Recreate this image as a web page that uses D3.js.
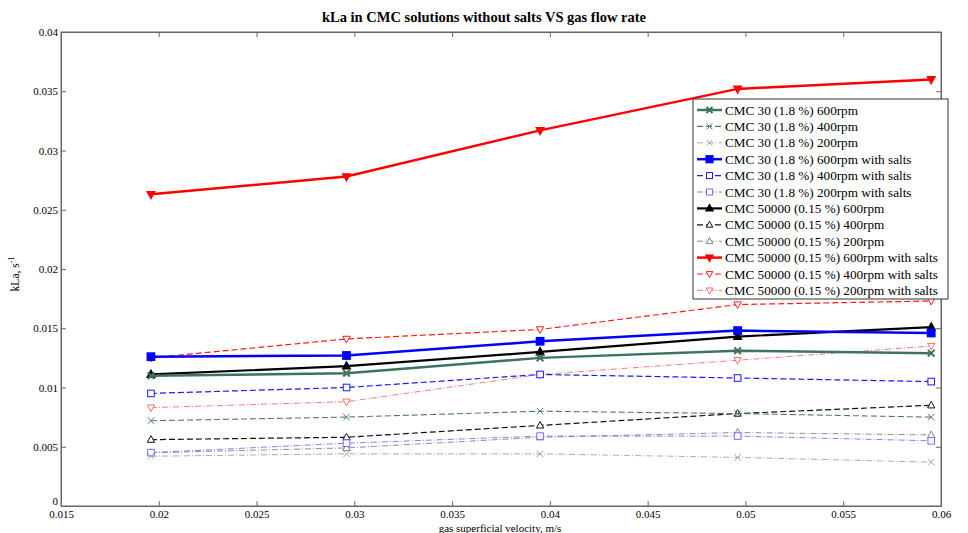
<!DOCTYPE html>
<html>
<head>
<meta charset="utf-8">
<script src="https://cdn.jsdelivr.net/npm/d3@7"></script>
<style>
  body { margin: 0; background: #fff; }
  text { font-family: "Liberation Serif", "DejaVu Serif", serif; }
</style>
</head>
<body>
<svg id="chart" width="968" height="533"></svg>
<script>
// gas superficial velocity, m/s
var velocity = [0.0196, 0.0296, 0.0395, 0.0496, 0.0595];

// kLa values, one array per series
var cmc30_600 = [0.0110, 0.0112, 0.0125, 0.0131, 0.0129];
var cmc30_400 = [0.0072, 0.0075, 0.0080, 0.0078, 0.0075];
var cmc30_200 = [0.0042, 0.0044, 0.0044, 0.0041, 0.0037];
var cmc30_600s = [0.0126, 0.0127, 0.0139, 0.0148, 0.0146];
var cmc30_400s = [0.0095, 0.0100, 0.0111, 0.0108, 0.0105];
var cmc30_200s = [0.0045, 0.0053, 0.0059, 0.0059, 0.0055];
var cmc50k_600 = [0.0111, 0.0118, 0.0130, 0.0143, 0.0151];
var cmc50k_400 = [0.0056, 0.0058, 0.0068, 0.0078, 0.0085];
var cmc50k_200 = [0.0045, 0.0049, 0.0058, 0.0062, 0.0060];
var cmc50k_600s = [0.0263, 0.0278, 0.0317, 0.0352, 0.0360];
var cmc50k_400s = [0.0125, 0.0141, 0.0149, 0.0170, 0.0173];
var cmc50k_200s = [0.0083, 0.0088, 0.0111, 0.0123, 0.0135];

var xTicks = [0.015, 0.02, 0.025, 0.03, 0.035, 0.04, 0.045, 0.05, 0.055, 0.06];
var yTicks = [0, 0.005, 0.01, 0.015, 0.02, 0.025, 0.03, 0.035, 0.04];

// series table: name, values, color, line style, marker
var series = [
  {name: "CMC 30 (1.8 %) 600rpm", v: cmc30_600, c: "#3d7558", w: 2.5, dash: null, m: "x", fill: true},
  {name: "CMC 30 (1.8 %) 400rpm", v: cmc30_400, c: "#4e7d64", w: 1.1, dash: "6,3", m: "x"},
  {name: "CMC 30 (1.8 %) 200rpm", v: cmc30_200, c: "#8fae9c", w: 0.9, dash: "6,2,1,2", m: "x"},
  {name: "CMC 30 (1.8 %) 600rpm with salts", v: cmc30_600s, c: "#0000ff", w: 2.5, dash: null, m: "square", fill: true},
  {name: "CMC 30 (1.8 %) 400rpm with salts", v: cmc30_400s, c: "#1a1aff", w: 1.2, dash: "6,3", m: "square"},
  {name: "CMC 30 (1.8 %) 200rpm with salts", v: cmc30_200s, c: "#7070ff", w: 0.9, dash: "6,2,1,2", m: "square"},
  {name: "CMC 50000 (0.15 %) 600rpm", v: cmc50k_600, c: "#000000", w: 2.2, dash: null, m: "up", fill: true},
  {name: "CMC 50000 (0.15 %) 400rpm", v: cmc50k_400, c: "#111111", w: 1.2, dash: "6,3", m: "up"},
  {name: "CMC 50000 (0.15 %) 200rpm", v: cmc50k_200, c: "#808080", w: 0.9, dash: "6,2,1,2", m: "up"},
  {name: "CMC 50000 (0.15 %) 600rpm with salts", v: cmc50k_600s, c: "#ff0000", w: 2.5, dash: null, m: "down", fill: true},
  {name: "CMC 50000 (0.15 %) 400rpm with salts", v: cmc50k_400s, c: "#ff1a1a", w: 1.2, dash: "6,3", m: "down"},
  {name: "CMC 50000 (0.15 %) 200rpm with salts", v: cmc50k_200s, c: "#ff6a6a", w: 0.9, dash: "6,2,1,2", m: "down"}
];

var svg = d3.select("#chart");
var plotL = 61, plotR = 941, plotT = 32, plotB = 506;

var x = d3.scaleLinear().domain([0.015, 0.06]).range([plotL, plotR]);
var y = d3.scaleLinear().domain([0, 0.04]).range([plotB, plotT]);

var fmt = function(d) { return d === 0 ? "0" : String(+d.toFixed(3)); };

// axes, matlab style: ticks inside on all four sides
svg.append("g").attr("transform", "translate(0," + plotB + ")")
  .call(d3.axisBottom(x).tickValues(xTicks).tickFormat(fmt).tickSizeInner(-5).tickSizeOuter(0).tickPadding(4));
svg.append("g").attr("transform", "translate(0," + plotT + ")")
  .call(d3.axisTop(x).tickValues(xTicks).tickFormat("").tickSizeInner(-5).tickSizeOuter(0));
var yAxisG = svg.append("g").attr("transform", "translate(" + plotL + ",0)")
  .call(d3.axisLeft(y).tickValues(yTicks).tickFormat(fmt).tickSizeInner(-5).tickSizeOuter(0).tickPadding(3));
svg.append("g").attr("transform", "translate(" + plotR + ",0)")
  .call(d3.axisRight(y).tickValues(yTicks).tickFormat("").tickSizeInner(-5).tickSizeOuter(0));

svg.selectAll(".domain").attr("stroke", "#666");
svg.selectAll(".tick line").attr("stroke", "#666");
svg.selectAll(".tick text").attr("fill", "#000").style("font-size", "11px")
  .style("font-family", "'Liberation Serif', serif");

// the "0" on the y axis sits a little above the corner, as in matlab
yAxisG.selectAll(".tick text").filter(function(d) { return d === 0; }).attr("dy", "-0.1em");

// frame
svg.append("rect").attr("x", plotL).attr("y", plotT)
  .attr("width", plotR - plotL).attr("height", plotB - plotT)
  .attr("fill", "none").attr("stroke", "#666").attr("stroke-width", 1);

// marker drawing
function marker(g, type, size, color, fill) {
  var s = size;
  if (type === "x") {
    g.append("path").attr("d", "M" + (-s) + "," + (-s) + "L" + s + "," + s + "M" + (-s) + "," + s + "L" + s + "," + (-s))
      .attr("stroke", color).attr("stroke-width", fill ? 2 : 1).attr("fill", "none");
  } else if (type === "square") {
    g.append("rect").attr("x", -s).attr("y", -s).attr("width", 2 * s).attr("height", 2 * s)
      .attr("stroke", color).attr("stroke-width", fill ? 2.2 : 1).attr("fill", fill ? color : "#fff");
  } else {
    var d = type === "up"
      ? "M0," + (-s * 1.2) + "L" + (s * 1.1) + "," + (s * 0.8) + "L" + (-s * 1.1) + "," + (s * 0.8) + "Z"
      : "M0," + (s * 1.2) + "L" + (s * 1.1) + "," + (-s * 0.8) + "L" + (-s * 1.1) + "," + (-s * 0.8) + "Z";
    g.append("path").attr("d", d).attr("stroke", color).attr("stroke-width", fill ? 1.6 : 1)
      .attr("fill", fill ? color : "#fff");
  }
}

var line = d3.line().x(function(d, i) { return x(velocity[i]); }).y(function(d) { return y(d); });

// draw from last to first so the first legend series end up on top
series.slice().reverse().forEach(function(s) {
  svg.append("path").datum(s.v)
    .attr("d", line)
    .attr("fill", "none")
    .attr("stroke", s.c)
    .attr("stroke-width", s.w)
    .attr("stroke-dasharray", s.dash);
  s.v.forEach(function(d, i) {
    var g = svg.append("g").attr("transform", "translate(" + x(velocity[i]) + "," + y(d) + ")");
    marker(g, s.m, 3.3, s.c, s.fill);
  });
});

// title and labels
svg.append("text").attr("x", 484).attr("y", 22)
  .attr("text-anchor", "middle").style("font-size", "14.5px").style("font-weight", "bold")
  .text("kLa in CMC solutions without salts VS gas flow rate");

svg.append("text").attr("x", 500).attr("y", 532)
  .attr("text-anchor", "middle").style("font-size", "11px")
  .text("gas superficial velocity, m/s");

var yl = svg.append("text").attr("transform", "translate(19,274) rotate(-90)")
  .attr("text-anchor", "middle").style("font-size", "11.5px");
yl.append("tspan").text("kLa, s");
yl.append("tspan").attr("dy", -5).style("font-size", "8px").text("-1");

// legend
var lg = svg.append("g").attr("transform", "translate(693,99)");
lg.append("rect").attr("width", 255).attr("height", 200)
  .attr("fill", "#fff").attr("stroke", "#333").attr("stroke-width", 1);
series.forEach(function(s, i) {
  var yy = 11 + i * 16.4;
  lg.append("line").attr("x1", 4).attr("x2", 29).attr("y1", yy).attr("y2", yy)
    .attr("stroke", s.c).attr("stroke-width", s.w).attr("stroke-dasharray", s.dash);
  var g = lg.append("g").attr("transform", "translate(16.5," + yy + ")");
  marker(g, s.m, 3, s.c, s.fill);
  lg.append("text").attr("x", 32).attr("y", yy + 4.5)
    .style("font-size", "13.2px").attr("fill", "#000").text(s.name);
});
</script>
</body>
</html>
